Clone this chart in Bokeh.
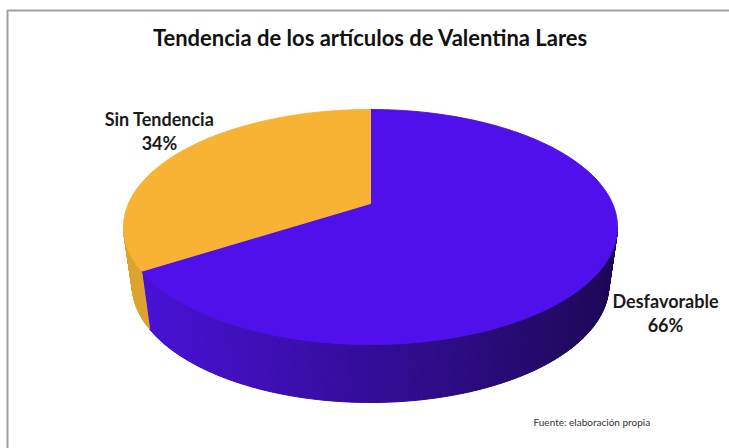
import math
from bokeh.plotting import figure
from bokeh.models import ColumnDataSource
from bokeh.core.properties import value
from bokeh.embed import file_html
from bokeh.resources import INLINE

# ---- data ----
categories = ["Desfavorable", "Sin Tendencia"]
values = [66, 34]
pct_labels = ["66%", "34%"]
top_colors = ["#5010EC", "#F8B334"]
side_left = [(74, 18, 218), (222, 164, 50)]
side_right = [(30, 8, 88), (205, 150, 40)]
title_text = "Tendencia de los artículos de Valentina Lares"
source_text = "Fuente: elaboración propia"

# ---- geometry (page-pixel data space) ----
W, H = 729, 448
CX, CY = 370.0, 203.0
A, B, K = 242.0, 112.8, 0.2
DEPTH, BSCALE = 58.0, 0.965


def proj(theta, bottom=False):
    u, v = math.cos(theta), math.sin(theta)
    w = 1 + K * v
    x = CX + A * u / w
    y = CY - B * v / w
    if bottom:
        x = CX + BSCALE * (x - CX)
        y += DEPTH
    return x, y


p = figure(width=W, height=H, x_range=(0, W), y_range=(H, 0),
           output_backend="svg", toolbar_location=None, min_border=0)
p.axis.visible = False
p.grid.visible = False
p.outline_line_color = None
p.background_fill_color = "white"

# chart border (top and left visible)
p.line([7, 7, W], [H, 10, 10], line_color="#A0A0A0", line_width=2)

total = sum(values)
start = math.pi / 2
slices = []
for i, val in enumerate(values):
    sweep = 2 * math.pi * val / total
    a0, a1 = start - sweep, start  # clockwise from 12 o'clock
    slices.append((a0, a1))
    start = a0

# front visible range of the side wall
f0 = math.pi + math.asin(K)
f1 = 2 * math.pi - math.asin(K)

side_xs, side_ys, side_cols = [], [], []
xl, xr = CX - A * 1.02, CX + A * 1.02
for i, (a0, a1) in enumerate(slices):
    for off in (-2 * math.pi, 0, 2 * math.pi):
        lo = max(a0 + off, f0)
        hi = min(a1 + off, f1)
        if hi <= lo:
            continue
        n = max(2, int((hi - lo) / 0.01))
        for j in range(n):
            t0 = lo + (hi - lo) * j / n
            t1 = lo + (hi - lo) * (j + 1) / n
            p0 = proj(t0); p1 = proj(t1)
            q1 = proj(t1, True); q0 = proj(t0, True)
            side_xs.append([p0[0], p1[0], q1[0], q0[0]])
            side_ys.append([p0[1], p1[1], q1[1], q0[1]])
            xm = (p0[0] + p1[0]) / 2
            f = min(1, max(0, (xm - xl) / (xr - xl)))
            c = tuple(int(side_left[i][k] + (side_right[i][k] - side_left[i][k]) * f) for k in range(3))
            side_cols.append("#%02x%02x%02x" % c)

p.patches("xs", "ys", source=ColumnDataSource(dict(xs=side_xs, ys=side_ys, c=side_cols)),
          fill_color="c", line_color="c", line_width=1)

top_xs, top_ys = [], []
for (a0, a1) in slices:
    n = max(4, int((a1 - a0) / 0.01))
    xs, ys = [CX], [CY]
    for j in range(n + 1):
        x, y = proj(a0 + (a1 - a0) * j / n)
        xs.append(x); ys.append(y)
    top_xs.append(xs); top_ys.append(ys)

p.patches("xs", "ys", source=ColumnDataSource(dict(xs=top_xs, ys=top_ys, c=top_colors)),
          fill_color="c", line_color="c", line_width=1)

# labels
lab_x = [665, 159]
lab_y = [300, 118]
for i in range(len(categories)):
    p.text([lab_x[i]], [lab_y[i]], text=[categories[i]], text_align="center", text_baseline="middle",
           text_font=value("Lato"), text_font_style="bold", text_font_size="18px", text_color="#1a1a1a")
    p.text([lab_x[i]], [lab_y[i] + 24.5], text=[pct_labels[i]], text_align="center", text_baseline="middle",
           text_font=value("Lato"), text_font_style="bold", text_font_size="18px", text_color="#1a1a1a")

p.text([370], [37], text=[title_text], text_align="center", text_baseline="middle",
       text_font=value("Lato"), text_font_style="bold", text_font_size="22px", text_color="#111111")
p.text([533], [421], text=[source_text], text_align="left", text_baseline="middle",
       text_font=value("Lato"), text_font_size="10px", text_color="#333333")

open("out.html", "w").write(file_html(p, INLINE))
